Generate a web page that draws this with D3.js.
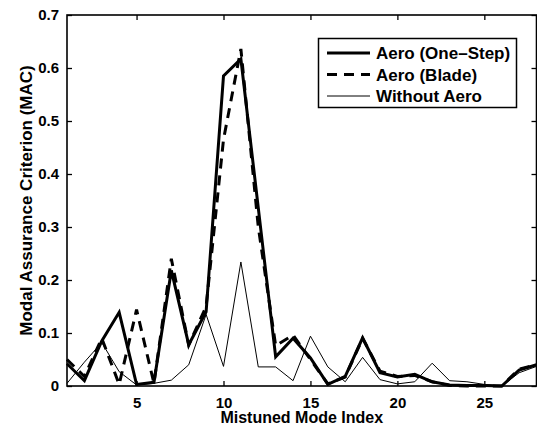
<!DOCTYPE html>
<html><head><meta charset="utf-8">
<script src="https://cdn.jsdelivr.net/npm/d3@7"></script>
<style>
body{margin:0;background:#fff}
svg{display:block}
text{font-family:"Liberation Sans",Arial,Helvetica,sans-serif;font-weight:bold;fill:#000}
</style>
</head><body>
<svg id="chart" width="537" height="427"></svg>
<script>
const modeIndex = [1,2,3,4,5,6,7,8,9,10,11,12,13,14,15,16,17,18,19,20,21,22,23,24,25,26,27,28];
const aeroOneStep = [0.042,0.010,0.085,0.139,0.003,0.007,0.218,0.078,0.140,0.585,0.617,0.336,0.055,0.090,0.053,0.003,0.018,0.091,0.025,0.017,0.022,0.008,0.002,0.001,0.001,0.000,0.030,0.040];
const aeroBlade   = [0.050,0.018,0.090,0.003,0.144,0.005,0.240,0.077,0.150,0.465,0.636,0.300,0.076,0.096,0.050,0.004,0.017,0.090,0.028,0.018,0.020,0.008,0.001,0.000,0.000,0.000,0.032,0.040];
const withoutAero = [0.005,0.045,0.082,0.027,0.002,0.005,0.011,0.040,0.135,0.037,0.234,0.036,0.036,0.010,0.094,0.036,0.008,0.054,0.012,0.004,0.008,0.043,0.010,0.008,0.003,0.000,0.025,0.037];
const xTicks = [5,10,15,20,25];
const yTicks = [0,0.1,0.2,0.3,0.4,0.5,0.6,0.7];
const seriesNames = ["Aero (One\u2013Step)","Aero (Blade)","Without Aero"];

const L=67, R=536.5, T=15, B=386;
const svg = d3.select("#chart");
const x = d3.scaleLinear().domain([1,28]).range([L,R]);
const y = d3.scaleLinear().domain([0,0.7]).range([B,T]);

const styles = [
  {w:3, dash:null},
  {w:3, dash:"10,7"},
  {w:1, dash:null}
];
const series = [aeroOneStep, aeroBlade, withoutAero];

const line = d3.line().x((d,i)=>x(modeIndex[i])).y(d=>y(d));
series.forEach((s,k)=>{
  svg.append("path").datum(s).attr("d",line)
    .attr("fill","none").attr("stroke","#000")
    .attr("stroke-width",styles[k].w)
    .attr("stroke-dasharray",styles[k].dash)
    .attr("stroke-linejoin","miter");
});

function styleAxis(g){
  g.select(".domain").remove();
  g.selectAll("line").attr("stroke","#000").attr("stroke-width",1.3);
  g.selectAll("text").style("font-size","15px");
}
svg.append("g").attr("transform",`translate(0,${B})`)
  .call(d3.axisBottom(x).tickValues(xTicks).tickSizeInner(-5).tickSizeOuter(0).tickPadding(11).tickFormat(d3.format("d")))
  .call(styleAxis);
svg.append("g").attr("transform",`translate(0,${T})`)
  .call(d3.axisTop(x).tickValues(xTicks).tickSizeInner(-5).tickSizeOuter(0).tickFormat(""))
  .call(styleAxis);
svg.append("g").attr("transform",`translate(${L},0)`)
  .call(d3.axisLeft(y).tickValues(yTicks).tickSizeInner(-5).tickSizeOuter(0).tickPadding(8).tickFormat(d=>d===0?"0":d3.format(".1f")(d)))
  .call(styleAxis);
svg.append("g").attr("transform",`translate(${R},0)`)
  .call(d3.axisRight(y).tickValues(yTicks).tickSizeInner(-5).tickSizeOuter(0).tickFormat(""))
  .call(styleAxis);

svg.append("rect").attr("x",L).attr("y",T).attr("width",R-L).attr("height",B-T)
  .attr("fill","none").attr("stroke","#000").attr("stroke-width",1.6);

svg.append("text").attr("x",(L+R)/2).attr("y",423).attr("text-anchor","middle")
  .style("font-size","16px").text("Mistuned Mode Index");
svg.append("text").attr("transform",`translate(32,${(T+B)/2}) rotate(-90)`).attr("text-anchor","middle")
  .style("font-size","17px").text("Modal Assurance Criterion (MAC)");

// legend
const lg = svg.append("g");
lg.append("rect").attr("x",318.5).attr("y",38.5).attr("width",198).attr("height",69)
  .attr("fill","#fff").attr("stroke","#000").attr("stroke-width",1.5);
seriesNames.forEach((n,k)=>{
  const cy = 53 + k*21.5;
  lg.append("line").attr("x1",327).attr("x2",370).attr("y1",cy).attr("y2",cy)
    .attr("stroke","#000").attr("stroke-width",styles[k].w).attr("stroke-dasharray",styles[k].dash);
  lg.append("text").attr("x",376).attr("y",cy).attr("dy","0.36em")
    .style("font-size","17px").text(n);
});
</script>
</body></html>
